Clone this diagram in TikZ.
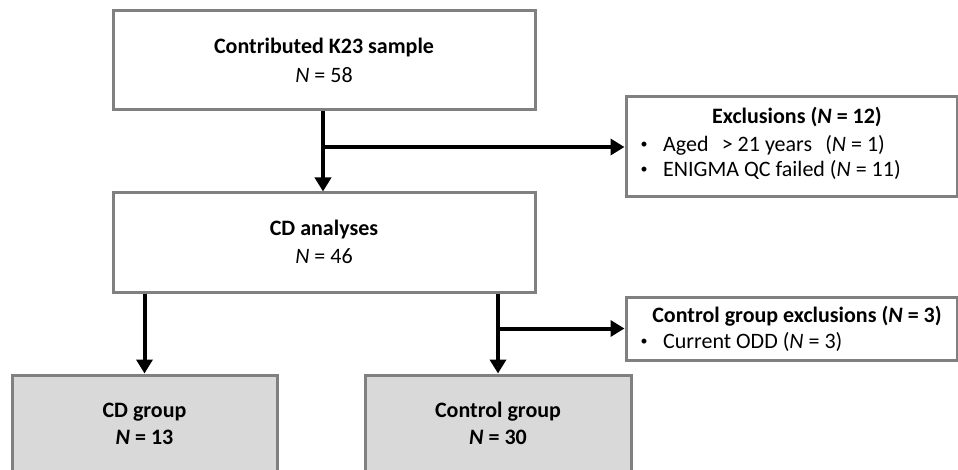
\documentclass[tikz,border=0pt]{standalone}
\usepackage{fontspec}
\setmainfont{Carlito}
\usetikzlibrary{arrows.meta}
\definecolor{boxline}{HTML}{808080}
\definecolor{groupfill}{HTML}{D9D9D9}
\begin{document}
\begin{tikzpicture}[x=1pt,y=-1pt,
  box/.style={draw=boxline, line width=3pt, fill=white, rectangle, inner sep=0pt},
  groupbox/.style={box, fill=groupfill},
  txt/.style={font=\fontsize{22}{26}\selectfont, inner sep=0pt, align=center},
  dot/.style={font=\fontsize{14}{16}\selectfont, inner sep=0pt},
  flow/.style={line width=4pt, -{Triangle[length=14pt,width=16pt]}}]
\useasboundingbox (0,0) rectangle (958,470);
\clip (0,0) rectangle (958,470);

% main column
\node[box, minimum width=422pt, minimum height=99pt] (top) at (324,60.5) {};
\node[txt] (topA) at (324,48) {\textbf{Contributed K23 sample}};
\node[txt] (topB) at (324,75) {\textit{N} = 58};

\node[box, minimum width=422pt, minimum height=99pt] (cd) at (324,242.5) {};
\node[txt] (cdA) at (324,230) {\textbf{CD analyses}};
\node[txt] (cdB) at (324,256) {\textit{N} = 46};

% exclusion boxes
\node[box, minimum width=331pt, minimum height=100pt] (ex) at (791.5,147) {};
\node[txt] (exT) at (797,117) {\textbf{Exclusions (\textit{N} = 12)}};
\node[dot] (exb1) at (644,145) {•};
\node[txt, anchor=west] (ex1) at (663,145) {Aged\hspace{0.6em}> 21 years\hspace{0.6em}(\textit{N} = 1)};
\node[dot] (exb2) at (644,170) {•};
\node[txt, anchor=west] (ex2) at (663,170) {ENIGMA QC failed (\textit{N} = 11)};

\node[box, minimum width=331pt, minimum height=63pt] (cx) at (791.5,328.5) {};
\node[txt] (cxT) at (797,316) {\textbf{Control group exclusions (\textit{N} = 3)}};
\node[dot] (cxb1) at (644,342) {•};
\node[txt, anchor=west] (cx1) at (663,342) {Current ODD (\textit{N} = 3)};

% group boxes
\node[groupbox, minimum width=265pt, minimum height=100pt] (cdg) at (144.5,425) {};
\node[txt] (cdgA) at (144.5,412) {\textbf{CD group}};
\node[txt] (cdgB) at (144.5,437) {\textbf{\textit{N} = 13}};

\node[groupbox, minimum width=266pt, minimum height=100pt] (ctg) at (498,425) {};
\node[txt] (ctgA) at (498,412) {\textbf{Control group}};
\node[txt] (ctgB) at (498,437) {\textbf{\textit{N} = 30}};

% connectors
\coordinate (j1) at (323,147);
\coordinate (j2) at (498,328.5);
\draw[flow] (top.south -| j1) -- (cd.north -| j1);
\draw[flow] (j1) -- (ex.west);
\draw[flow] (cd.south -| cdg.north) -- (cdg.north);
\draw[flow] (cd.south -| ctg.north) -- (ctg.north);
\draw[flow] (j2) -- (cx.west);
\end{tikzpicture}
\end{document}
